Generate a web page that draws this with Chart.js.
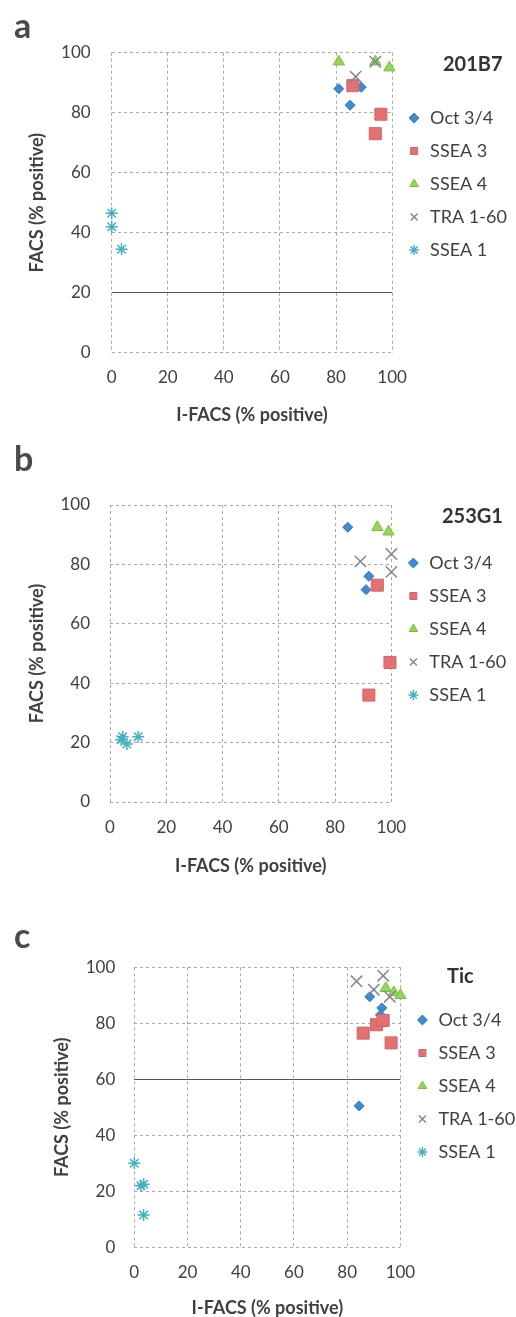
<!DOCTYPE html>
<html>
<head>
<meta charset="utf-8">
<script src="https://cdn.jsdelivr.net/npm/chart.js@4"></script>
<style>
  body { margin: 0; background: #fff; }
  #page { position: relative; width: 516px; height: 1317px; overflow: hidden; font-family: Lato, sans-serif; }
  canvas { position: absolute; left: 0; }
  .letter { position: absolute; left: 14px; font-size: 34px; font-weight: bold; line-height: 34px; color: #4a4a4a; }
  .name { position: absolute; font-size: 20px; font-weight: bold; line-height: 24px; color: #333; }
</style>
</head>
<body>
<div id="page">
  <canvas id="chartA" width="516" height="440" style="top:0px"></canvas>
  <canvas id="chartB" width="516" height="460" style="top:440px"></canvas>
  <canvas id="chartC" width="516" height="417" style="top:900px"></canvas>
  <div class="letter" style="top:8px">a</div>
  <div class="name" style="left:443px;top:51px">201B7</div>
  <div class="letter" style="top:441px">b</div>
  <div class="name" style="left:442px;top:503px">253G1</div>
  <div class="letter" style="top:918px">c</div>
  <div class="name" style="left:447px;top:963px">Tic</div>
</div>
<script>
const seriesNames = ['Oct 3/4', 'SSEA 3', 'SSEA 4', 'TRA 1-60', 'SSEA 1'];
const axisTicks = [0, 20, 40, 60, 80, 100];

// [I-FACS, FACS] pairs
// a: 201B7
const oct_201B7 = [[81, 88], [89, 88.5], [85, 82.5]];
const ssea3_201B7 = [[86, 89], [96, 79.5], [94, 73]];
const ssea4_201B7 = [[81, 97], [94, 97], [99, 95]];
const tra_201B7 = [[94, 97], [87, 92]];
const ssea1_201B7 = [[0, 46.5], [0, 42], [3.5, 34.5]];

// b: 253G1
const oct_253G1 = [[84.5, 92.5], [92, 76], [91, 71.5]];
const ssea3_253G1 = [[95, 73], [99.5, 47], [92, 36]];
const ssea4_253G1 = [[95, 92.5], [99, 91]];
const tra_253G1 = [[89, 81], [100, 83.5], [100, 77.5]];
const ssea1_253G1 = [[4.5, 22], [6, 19.5], [10, 22], [4, 21]];

// c: Tic
const oct_Tic = [[88.5, 89.5], [93, 85.5], [92.5, 83], [84.5, 50.5]];
const ssea3_Tic = [[86, 76.5], [91, 79.5], [93.5, 81], [96.5, 73]];
const ssea4_Tic = [[94.5, 92.5], [97.5, 91], [100, 90]];
const tra_Tic = [[83.5, 95], [93.5, 97], [90, 92], [96, 89.5]];
const ssea1_Tic = [[0, 30], [2.5, 22], [3.5, 22.5], [3.5, 11.5]];

const seriesStyles = [
  { pointStyle: 'rectRot', radius: 5, bg: '#3f8ad0', border: '#2f77bb', width: 1 },
  { pointStyle: 'rect', radius: 8.5, bg: '#e27272', border: '#d46262', width: 1 },
  { pointStyle: 'triangle', radius: 6.5, bg: '#94d65a', border: '#79bf3f', width: 1 },
  { pointStyle: 'crossRot', radius: 8, bg: '#8a8a9a', border: '#858595', width: 1.5 },
  { pointStyle: 'star', radius: 6, bg: '#4bb6c8', border: '#43b0c4', width: 1.5 }
];

const FONT = 'Lato, sans-serif';
const TEXT = '#404040';
const TITLE_SIZE = 18;

// positions are page pixels
const panels = [
  {
    id: 'chartA', top: 0, height: 440,
    series: [oct_201B7, ssea3_201B7, ssea4_201B7, tra_201B7, ssea1_201B7],
    area: { left: 111.7, right: 394.3, top: 52.7, bottom: 352.7 },
    yTitleX: 37, yTickGap: 21, xTickY: 378, xTitleY: 415, legendY: 118, darkY: 20
  },
  {
    id: 'chartB', top: 440, height: 460,
    series: [oct_253G1, ssea3_253G1, ssea4_253G1, tra_253G1, ssea1_253G1],
    area: { left: 110, right: 393.3, top: 505, bottom: 802 },
    yTitleX: 37, yTickGap: 20, xTickY: 828, xTitleY: 866, legendY: 563, darkY: null
  },
  {
    id: 'chartC', top: 900, height: 417,
    series: [oct_Tic, ssea3_Tic, ssea4_Tic, tra_Tic, ssea1_Tic],
    area: { left: 134.3, right: 403.3, top: 967.3, bottom: 1247.3 },
    yTitleX: 62, yTickGap: 19, xTickY: 1273, xTitleY: 1308, legendY: 1020, darkY: 60
  }
];

function makeChart(p) {
  const ctx = document.getElementById(p.id).getContext('2d');
  const top = p.area.top - p.top;
  const bottom = p.area.bottom - p.top;
  const titleHalf = TITLE_SIZE * 1.2 / 2;
  const padLeft = p.yTitleX - 2 - titleHalf;
  const axisBottom = p.xTitleY - p.top + titleHalf + 2;
  const padBottom = p.height - axisBottom;
  const legendSpacer = p.legendY - p.area.top - 15 - 9;

  // one horizontal gridline came out solid and dark in the scan
  const gridColor = function (c) {
    return c.tick && c.tick.value === p.darkY ? '#555' : '#a8a8a8';
  };
  const gridDash = function (c) {
    return c.tick && c.tick.value === p.darkY ? [] : [3, 3];
  };

  const chart = new Chart(ctx, {
    type: 'scatter',
    data: {
      datasets: p.series.map(function (pts, i) {
        const s = seriesStyles[i];
        return {
          label: seriesNames[i],
          data: pts.map(function (d) { return { x: d[0], y: d[1] }; }),
          pointStyle: s.pointStyle,
          pointRadius: s.radius,
          pointHoverRadius: s.radius,
          backgroundColor: s.bg,
          borderColor: s.border,
          borderWidth: s.width,
          clip: false,
          order: 4 - i // later series on top, like Excel
        };
      })
    },
    options: {
      responsive: false,
      animation: false,
      layout: { padding: { left: padLeft, top: top, bottom: padBottom, right: 10 } },
      plugins: {
        tooltip: { enabled: false },
        legend: {
          position: 'right',
          align: 'start',
          // empty title only pushes the items down below the panel name
          title: { display: true, text: '', font: { size: 10, lineHeight: 1 }, padding: { top: legendSpacer - 10, bottom: 0 } },
          labels: {
            usePointStyle: true,
            boxWidth: 14,
            boxHeight: 7,
            padding: 15,
            color: TEXT,
            font: { family: FONT, size: 18 },
            sort: function (a, b) { return a.datasetIndex - b.datasetIndex; }
          }
        }
      },
      scales: {
        x: {
          type: 'linear',
          min: 0,
          max: 100,
          afterBuildTicks: function (s) { s.ticks = axisTicks.map(function (v) { return { value: v }; }); },
          afterFit: function (s) { s.height = axisBottom - bottom; },
          grid: { color: '#a8a8a8', drawTicks: false },
          border: { display: false, dash: [3, 3] },
          ticks: { padding: p.xTickY - p.area.bottom - 17 * 1.2 / 2, color: TEXT, font: { family: FONT, size: 17 } },
          title: { display: true, text: 'I-FACS (% positive)', color: TEXT, font: { family: FONT, size: TITLE_SIZE, weight: 'bold' }, padding: { top: 0, bottom: 2 } }
        },
        y: {
          type: 'linear',
          min: 0,
          max: 100,
          afterBuildTicks: function (s) { s.ticks = axisTicks.map(function (v) { return { value: v }; }); },
          afterFit: function (s) { s.width = p.area.left - padLeft; },
          grid: { color: gridColor, drawTicks: false },
          border: { display: false, dash: gridDash },
          ticks: { padding: p.yTickGap, color: TEXT, font: { family: FONT, size: 17 } },
          title: { display: true, text: 'FACS (% positive)', color: TEXT, font: { family: FONT, size: TITLE_SIZE, weight: 'bold' }, padding: { top: 2, bottom: 0 } }
        }
      }
    }
  });

  // legend width depends on text: nudge right padding so the plot ends where it should
  const dx = p.area.right - chart.chartArea.right;
  chart.options.layout.padding.right -= dx;
  chart.update();
  return chart;
}

panels.forEach(makeChart);
</script>
</body>
</html>
